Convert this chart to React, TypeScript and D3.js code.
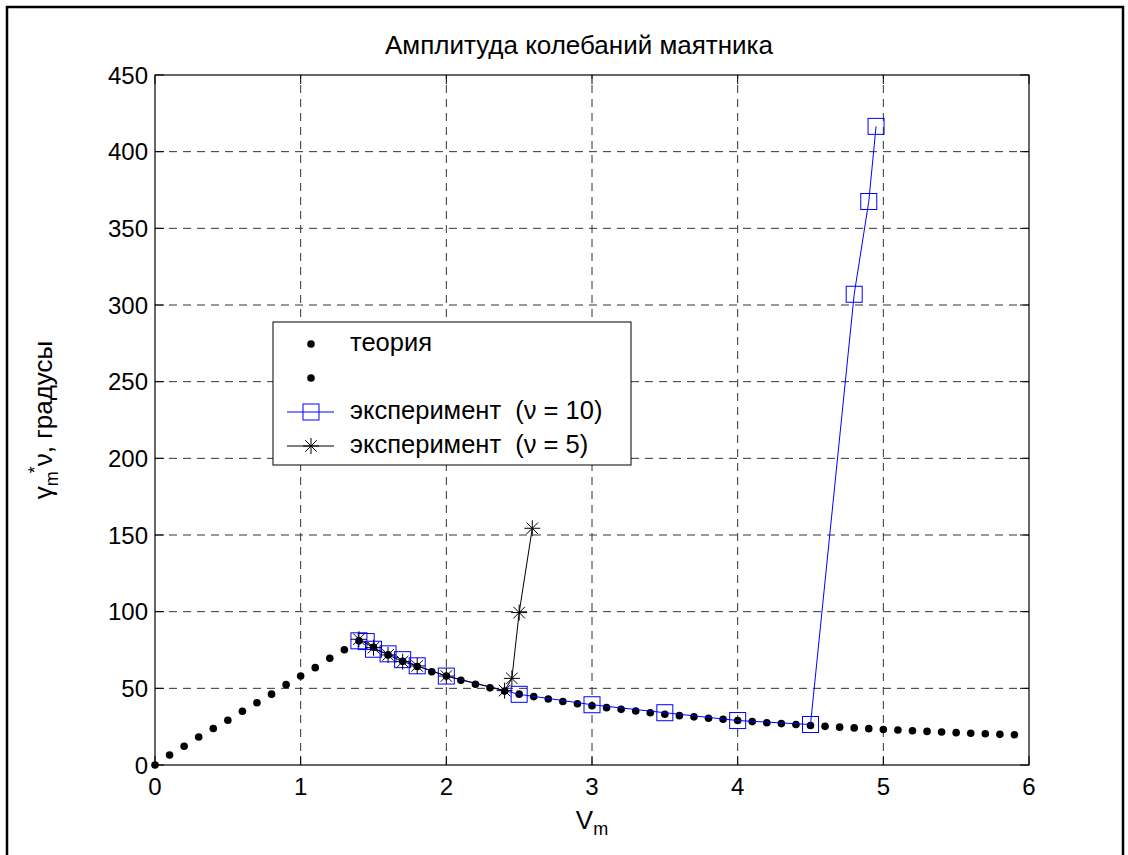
import React from "react";
import * as d3 from "d3";

const theoryV = [0,0.1,0.2,0.3,0.4,0.5,0.6,0.7,0.8,0.9,1.0,1.1,1.2,1.3,1.4,1.5,1.6,1.7,1.8,1.9,2.0,2.1,2.2,2.3,2.4,2.5,2.6,2.7,2.8,2.9,3.0,3.1,3.2,3.3,3.4,3.5,3.6,3.7,3.8,3.9,4.0,4.1,4.2,4.3,4.4,4.5,4.6,4.7,4.8,4.9,5.0,5.1,5.2,5.3,5.4,5.5,5.6,5.7,5.8,5.9];
const theoryAmp = [0,6.5,12.2,18.3,23.8,29.2,35.1,40.6,46.2,52.4,58,63.5,69.6,75.2,81,76.8,71.8,67.6,64.2,60.8,58,55.3,52.7,50.3,48.2,46.2,44.6,43,41.4,39.9,38.6,37.4,36.3,35.2,34.1,33.1,32.2,31.4,30.5,29.8,29,28.3,27.6,27,26.4,25.8,25.2,24.7,24.2,23.7,23.2,22.8,22.3,21.9,21.5,21.1,20.7,20.4,20,19.7];

const exp10V = [1.4,1.45,1.5,1.6,1.7,1.8,2.0,2.5,3.0,3.5,4.0,4.5,4.8,4.9,4.95];
const exp10Amp = [81,80.5,75.5,72.5,68.7,64.7,58,46.1,39.3,34.1,29,26.4,307,367.5,416.5];

const exp5V = [1.4,1.5,1.6,1.7,1.8,2.0,2.4,2.45,2.5,2.59];
const exp5Amp = [82,76.5,71.8,67.4,64.6,58,48.5,56.5,99.4,154.4];

const xTicks = [0,1,2,3,4,5,6];
const yTicks = [0,50,100,150,200,250,300,350,400,450];

const title = "Амплитуда колебаний маятника";
const legendLabels = ["теория", "", "эксперимент  (ν = 10)", "эксперимент  (ν = 5)"];

const FONT = "'Liberation Sans', Arial, sans-serif";

function Asterisk({ cx, cy, r, stroke }: { cx: number; cy: number; r: number; stroke: string }) {
  const d = r * 0.72;
  return (
    <g stroke={stroke} strokeWidth={1}>
      <line x1={cx - r} y1={cy} x2={cx + r} y2={cy} />
      <line x1={cx} y1={cy - r} x2={cx} y2={cy + r} />
      <line x1={cx - d} y1={cy - d} x2={cx + d} y2={cy + d} />
      <line x1={cx - d} y1={cy + d} x2={cx + d} y2={cy - d} />
    </g>
  );
}

const keepSpaces = (s: string) => s.replace(/ {2}/g, " \u00A0");

export default function App() {
  const W = 1128, H = 855;
  const x = d3.scaleLinear().domain([0, 6]).range([155, 1029]);
  const y = d3.scaleLinear().domain([0, 450]).range([765, 75]);
  const [x0, x1] = x.range();
  const [y0, y1] = y.range();

  const line = d3.line<[number, number]>().x(d => x(d[0])).y(d => y(d[1]));
  const exp10 = exp10V.map((v, i) => [v, exp10Amp[i]] as [number, number]);
  const exp5 = exp5V.map((v, i) => [v, exp5Amp[i]] as [number, number]);

  const tick = 9;
  const sq = 16;
  const blue = "#0000ff";

  const legX = 273, legY = 322, legW = 358, legH = 143;
  const rowY = [344, 378, 412, 446];
  const mx = 311;

  return (
    <svg width={W} height={H} style={{ position: "absolute", left: 0, top: 0, background: "#fff" }} fontFamily={FONT}>
      <rect x={0} y={0} width={W} height={H} fill="#fff" />
      {/* figure frame */}
      <path d={`M7,${H + 5} L7,7 L1123,7 L1123,${H + 5}`} fill="none" stroke="#000" strokeWidth={2.5} />

      {/* grid */}
      <g stroke="#000" strokeWidth={1} strokeDasharray="8,6" opacity={0.8}>
        {xTicks.slice(1, -1).map(t => (
          <line key={"gx" + t} x1={x(t)} x2={x(t)} y1={y0} y2={y1} />
        ))}
        {yTicks.slice(1, -1).map(t => (
          <line key={"gy" + t} x1={x0} x2={x1} y1={y(t)} y2={y(t)} />
        ))}
      </g>

      {/* axes box and ticks */}
      <rect x={x0} y={y1} width={x1 - x0} height={y0 - y1} fill="none" stroke="#000" strokeWidth={1.2} />
      <g stroke="#000" strokeWidth={1}>
        {xTicks.map(t => (
          <g key={"tx" + t}>
            <line x1={x(t)} x2={x(t)} y1={y0} y2={y0 - tick} />
            <line x1={x(t)} x2={x(t)} y1={y1} y2={y1 + tick} />
          </g>
        ))}
        {yTicks.map(t => (
          <g key={"ty" + t}>
            <line x1={x0} x2={x0 + tick} y1={y(t)} y2={y(t)} />
            <line x1={x1} x2={x1 - tick} y1={y(t)} y2={y(t)} />
          </g>
        ))}
      </g>

      {/* tick labels */}
      <g fontSize={24} fill="#000">
        {xTicks.map(t => (
          <text key={"lx" + t} x={x(t)} y={795} textAnchor="middle">{t}</text>
        ))}
        {yTicks.map(t => (
          <text key={"ly" + t} x={x0 - 7} y={y(t) + 8.5} textAnchor="end">{t}</text>
        ))}
      </g>

      {/* title */}
      <text x={(x0 + x1) / 2 - 13} y={54} textAnchor="middle" fontSize={26}>{title}</text>

      {/* x label */}
      <text x={(x0 + x1) / 2} y={829} textAnchor="middle" fontSize={26}>
        V<tspan fontSize={18} dy={6}>m</tspan>
      </text>

      {/* y label */}
      <text transform={`translate(52, ${(y0 + y1) / 2}) rotate(-90)`} textAnchor="middle" fontSize={26}>
        γ<tspan fontSize={18} dy={6}>m</tspan><tspan fontSize={18} dx={-2} dy={-17}>*</tspan><tspan dy={11}>ν, градусы</tspan>
      </text>

      {/* theory dots */}
      <g fill="#000">
        {theoryV.map((v, i) => (
          <circle key={"t" + i} cx={x(v)} cy={y(theoryAmp[i])} r={3.8} />
        ))}
      </g>

      {/* experiment nu=10 */}
      <path d={line(exp10) || ""} fill="none" stroke={blue} strokeWidth={1} />
      {exp10.map((d, i) => (
        <rect key={"s" + i} x={x(d[0]) - sq / 2} y={y(d[1]) - sq / 2} width={sq} height={sq} fill="none" stroke={blue} strokeWidth={1} />
      ))}

      {/* experiment nu=5 */}
      <path d={line(exp5) || ""} fill="none" stroke="#000" strokeWidth={1} />
      {exp5.map((d, i) => (
        <Asterisk key={"a" + i} cx={x(d[0])} cy={y(d[1])} r={8} stroke="#000" />
      ))}

      {/* legend */}
      <rect x={legX} y={legY} width={legW} height={legH} fill="#fff" stroke="#000" strokeWidth={1} />
      <g fontSize={25.5}>
        <circle cx={mx} cy={rowY[0]} r={3.8} fill="#000" />
        <text x={350} y={rowY[0] + 7}>{keepSpaces(legendLabels[0])}</text>
        <circle cx={mx} cy={rowY[1]} r={3.8} fill="#000" />
        <text x={350} y={rowY[1] + 7}>{keepSpaces(legendLabels[1])}</text>
        <line x1={287} x2={334} y1={rowY[2]} y2={rowY[2]} stroke={blue} strokeWidth={1} />
        <rect x={mx - sq / 2} y={rowY[2] - sq / 2} width={sq} height={sq} fill="none" stroke={blue} strokeWidth={1} />
        <text x={350} y={rowY[2] + 7}>{keepSpaces(legendLabels[2])}</text>
        <line x1={287} x2={334} y1={rowY[3]} y2={rowY[3]} stroke="#000" strokeWidth={1} />
        <Asterisk cx={mx} cy={rowY[3]} r={8} stroke="#000" />
        <text x={350} y={rowY[3] + 7}>{keepSpaces(legendLabels[3])}</text>
      </g>
    </svg>
  );
}
